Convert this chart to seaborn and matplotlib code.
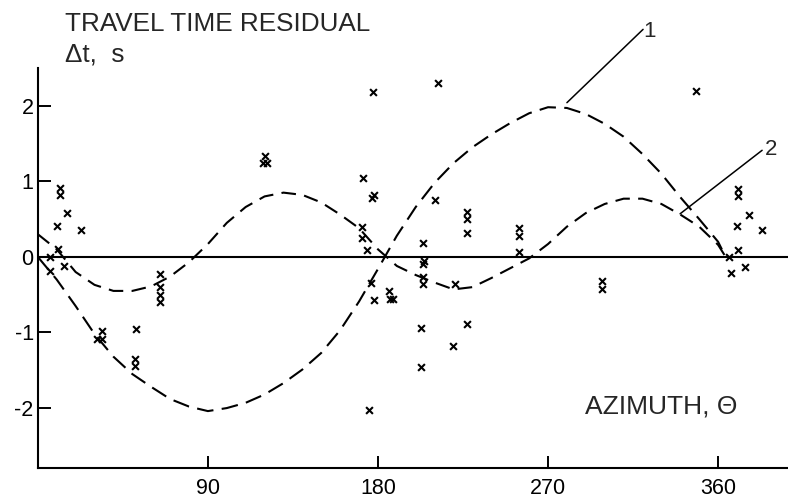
import matplotlib
matplotlib.use("Agg")
import matplotlib.pyplot as plt
import seaborn as sns
import pandas as pd

sns.set_theme(style="white")
plt.rcParams["font.family"] = ["Liberation Sans", "DejaVu Sans"]
plt.rcParams["axes.unicode_minus"] = False

# observed residuals (azimuth in degrees, residual in seconds)
obs_azimuth = [11.5, 11.5, 15.4, 10.2, 22.9, 10.6, 6.7, 14.1, 6.7,
               33.7, 31.1, 34.0, 51.9, 51.4, 51.4,
               64.6, 64.6, 64.6, 64.6,
               120.2, 119.3, 121.1,
               177.5, 171.9, 177.9, 176.7, 171.4, 171.4, 174.4, 176.1, 177.9,
               186.0, 186.3, 187.8, 175.2,
               210.2, 203.7, 204.3, 203.6, 203.8, 203.8, 220.8, 202.8, 227.0,
               219.7, 202.8, 211.6,
               227.0, 227.0, 227.0, 254.4, 254.4, 254.4,
               298.4, 298.4,
               348.3, 370.6, 370.6, 376.1, 370.0, 383.1, 370.6, 366.0, 374.3, 366.6]
obs_residual = [0.91, 0.82, 0.58, 0.41, 0.36, 0.10, 0.0, -0.12, -0.19,
                -0.98, -1.09, -1.09, -0.96, -1.35, -1.44,
                -0.22, -0.40, -0.50, -0.60,
                1.34, 1.24, 1.24,
                2.18, 1.05, 0.82, 0.78, 0.40, 0.25, 0.09, -0.35, -0.57,
                -0.45, -0.56, -0.56, -2.03,
                0.75, 0.18, -0.06, -0.09, -0.26, -0.36, -0.36, -0.94, -0.89,
                -1.18, -1.46, 2.30,
                0.60, 0.50, 0.31, 0.38, 0.27, 0.07,
                -0.32, -0.42,
                2.20, 0.90, 0.80, 0.55, 0.41, 0.35, 0.09, 0.0, -0.14, -0.21]

# model curves
curve_azimuth = [0, 10, 20, 30, 40, 50, 60, 70, 80, 90, 100, 110, 120, 130, 140,
                 150, 160, 170, 180, 190, 200, 210, 220, 230, 240, 250, 260, 270,
                 280, 290, 300, 310, 320, 330, 340, 350, 360, 364]
curve1 = [0.0, -0.30, -0.65, -1.02, -1.32, -1.55, -1.72, -1.88, -1.98, -2.04,
          -2.00, -1.93, -1.82, -1.67, -1.49, -1.27, -0.97, -0.59, -0.16, 0.28,
          0.66, 0.98, 1.24, 1.45, 1.62, 1.77, 1.90, 1.98, 1.97, 1.89, 1.76,
          1.59, 1.36, 1.10, 0.79, 0.50, 0.20, 0.0]
curve2 = [0.30, 0.10, -0.20, -0.37, -0.45, -0.45, -0.39, -0.26, -0.07, 0.17,
          0.45, 0.66, 0.80, 0.85, 0.82, 0.72, 0.56, 0.38, 0.10, -0.12, -0.24,
          -0.34, -0.43, -0.40, -0.28, -0.15, -0.02, 0.17, 0.40, 0.58, 0.70,
          0.77, 0.77, 0.70, 0.56, 0.40, 0.16, 0.0]

x_ticks = [90, 180, 270, 360]
y_ticks = [2, 1, 0, -1, -2]
y_tick_labels = ["2", "1", "0", "-1", "-2"]

fig = plt.figure(figsize=(7.88, 5.03), dpi=100)
ax = fig.add_axes([0.048, 0.070, 0.952, 0.795])

ax.axhline(0, color="black", lw=1.5, zorder=1)

sns.lineplot(x=curve_azimuth, y=curve1, ax=ax, color="black", lw=1.5,
             linestyle=(0, (8, 4)), sort=False)
sns.lineplot(x=curve_azimuth, y=curve2, ax=ax, color="black", lw=1.5,
             linestyle=(0, (7, 4)), sort=False)
sns.scatterplot(x=obs_azimuth, y=obs_residual, ax=ax, marker="x", s=24,
                color="black", linewidth=1.5, zorder=3)

# leader lines and curve labels
ax.plot([280, 320.3], [2.04, 3.01], color="black", lw=1.1, clip_on=False)
ax.text(323.5, 2.98, "1", fontsize=16, ha="center", va="center", clip_on=False)
ax.plot([339.9, 383.3], [0.57, 1.41], color="black", lw=1.1, clip_on=False)
ax.text(384.5, 1.42, "2", fontsize=16, ha="left", va="center", clip_on=False)

ax.set_xlim(0, 397)
ax.set_ylim(-2.79, 2.50)
ax.set_xticks(x_ticks)
ax.set_xticklabels([str(v) for v in x_ticks])
ax.set_yticks(y_ticks)
ax.set_yticklabels(y_tick_labels)
ax.tick_params(axis="both", direction="in", length=9, width=1.4,
               labelsize=15.5, colors="black")
ax.tick_params(axis="x", pad=7)
ax.tick_params(axis="y", pad=3)
ax.tick_params(left=True, bottom=True)

for s in ["top", "right"]:
    ax.spines[s].set_visible(False)
for s in ["left", "bottom"]:
    ax.spines[s].set_color("black")
    ax.spines[s].set_linewidth(1.5)
ax.set_xlabel("")
ax.set_ylabel("")
ax.grid(False)

fig.text(0.0825, 0.938, "TRAVEL TIME RESIDUAL", fontsize=18.8, ha="left",
         va="baseline")
fig.text(0.0825, 0.877, "Δt,  s", fontsize=18.8, ha="left", va="baseline")
fig.text(0.742, 0.177, "AZIMUTH, Θ", fontsize=19, ha="left", va="baseline")

fig.savefig("out.png", dpi=100, facecolor="white")
